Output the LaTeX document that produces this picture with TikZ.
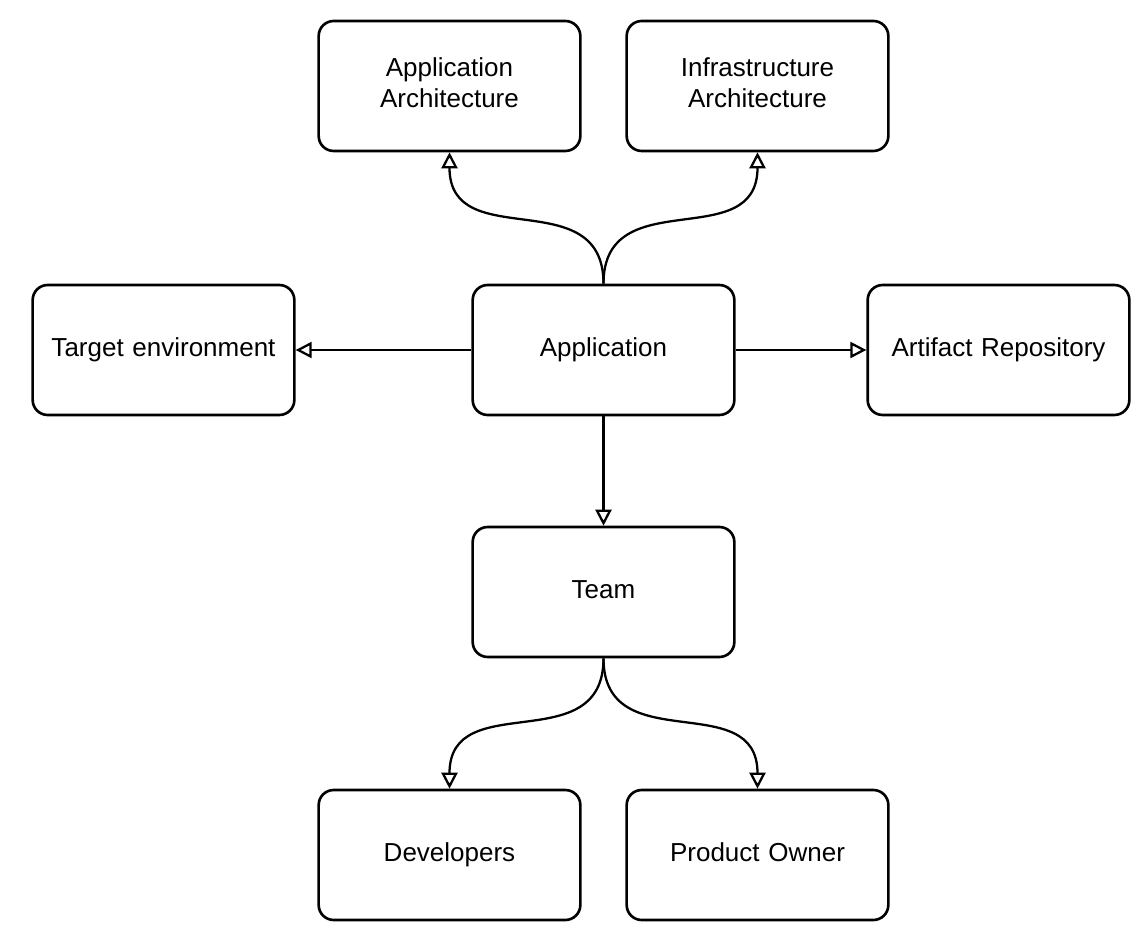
\documentclass[tikz,border=0pt]{standalone}
\usepackage{fontspec}
\setmainfont{Liberation Sans}
\usetikzlibrary{arrows.meta,positioning}

\begin{document}
\begin{tikzpicture}[x=0.02cm, y=-0.02cm,
  box/.style={draw, rounded corners=0.3cm, line width=1.5pt, fill=white,
              minimum width=5.2cm, minimum height=2.6cm, text width=5cm,
              align=center, font=\fontsize{14.8}{17.6}\selectfont,
              execute at begin node=\strut, execute at end node=\strut},
  link/.style={line width=1.3pt, -{Triangle[open,length=3.2mm,width=3.2mm]}}]

  \useasboundingbox[fill=white] (0,0) rectangle (1145,945);

  \node[box] (apparch)  at (449.5, 86)  {Application\\Architecture};
  \node[box] (infra)    at (757.5, 86)  {Infrastructure\\Architecture};
  \node[box] (target)   at (163.5, 350) {Target environment};
  \node[box] (app)      at (603.5, 350) {Application};
  \node[box] (artifact) at (998.5, 350) {Artifact Repository};
  \node[box] (team)     at (603.5, 592) {Team};
  \node[box] (dev)      at (449.5, 855) {Developers};
  \node[box] (po)       at (757.5, 855) {Product Owner};

  \draw[link] (app.north) to[out=90, in=-90, looseness=1.3] (apparch.south);
  \draw[link] (app.north) to[out=90, in=-90, looseness=1.3] (infra.south);
  \draw[link] (app.west) -- (target.east);
  \draw[link] (app.east) -- (artifact.west);
  \draw[link] (app.south) -- (team.north);
  \draw[link] (team.south) to[out=-90, in=90, looseness=1.3] (dev.north);
  \draw[link] (team.south) to[out=-90, in=90, looseness=1.3] (po.north);
\end{tikzpicture}
\end{document}
